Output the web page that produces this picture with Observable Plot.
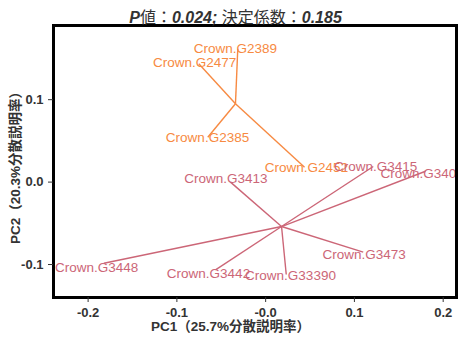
<!DOCTYPE html>
<html><head><meta charset="utf-8">
<script src="https://cdn.jsdelivr.net/npm/d3@7"></script>
<script src="https://cdn.jsdelivr.net/npm/@observablehq/plot@0.6"></script>
<style>
body{margin:0;background:#fff}
svg{display:block}
</style>
</head><body><div id="chart"></div>
<script>
// ---- data ----
const names   = ["Crown.G2389","Crown.G2477","Crown.G2385","Crown.G2452","Crown.G3415","Crown.G3406","Crown.G3413","Crown.G3448","Crown.G3442","Crown.G33390","Crown.G3473"];
const groupOf = ["A","A","A","A","B","B","B","B","B","B","B"];
const pc1     = [-0.0314,-0.0753,-0.0652, 0.0438, 0.1212, 0.1801,-0.0396,-0.1823,-0.0565, 0.0232, 0.1099];
const pc2     = [ 0.1617, 0.1435, 0.0545, 0.0181, 0.0189, 0.0132, 0.0000,-0.0984,-0.1064,-0.1121,-0.0850];
const labelPc1 = [-0.0340,-0.0801,-0.0655, 0.0460, 0.1238, 0.1762,-0.0447,-0.1903,-0.0644, 0.0280, 0.1110];
const labelPc2 = [ 0.1621, 0.1455, 0.0541, 0.0177, 0.0189, 0.0101, 0.0040,-0.1040,-0.1112,-0.1141,-0.0882];
const groupKeys = ["A","B"];
const centroidPc1 = [-0.0340, 0.0179];
const centroidPc2 = [ 0.0950,-0.0539];
const xTicks = [-0.2,-0.1,0,0.1,0.2];
const xTickLabels = ["-0.2","-0.1","-0.0","0.1","0.2"];
const yTicks = [-0.1,0,0.1];
const yTickLabels = ["-0.1","0.0","0.1"];
const xTitle = "PC1（25.7%分散説明率）";
const yTitle = "PC2（20.3%分散説明率）";
const titleParts = [["P",true],["値：",false],["0.024;",true],[" 決定係数：",false],["0.185",true]];

// ---- build tables ----
const groupColors = ["#F78A42","#CC6677"];
const rows = names.map((n,i)=>{
  const g = groupKeys.indexOf(groupOf[i]);
  return {name:n, group:groupOf[i], pc1:pc1[i], pc2:pc2[i], lx:labelPc1[i], ly:labelPc2[i], cx:centroidPc1[g], cy:centroidPc2[g]};
});

const FONT = "'Liberation Sans', Arial, 'Noto Sans CJK JP', sans-serif";

const plot = Plot.plot({
  width: 459, height: 338,
  marginLeft: 53, marginRight: 3, marginTop: 25, marginBottom: 41,
  style: {fontFamily: FONT, background: "white", overflow: "visible"},
  x: {domain: [-0.239, 0.215]},
  y: {domain: [-0.140, 0.190]},
  color: {domain: groupKeys, range: groupColors},
  marks: [
    Plot.link(rows, {x1: "cx", y1: "cy", x2: "pc1", y2: "pc2", stroke: "group", strokeWidth: 1.4}),
    Plot.text(rows, {x: "lx", y: "ly", text: "name", fill: "group", fontSize: 13.5, clip: true}),
    Plot.frame({stroke: "black", strokeWidth: 3}),
    Plot.axisX({ticks: xTicks, tickFormat: d => xTickLabels[xTicks.indexOf(d)], tickSize: 5, tickPadding: 5,
                fontSize: 13, fontWeight: "bold", color: "#333", label: null}),
    Plot.axisY({ticks: yTicks, tickFormat: d => yTickLabels[yTicks.indexOf(d)], tickSize: 5, tickPadding: 5,
                fontSize: 13, fontWeight: "bold", color: "#333", label: null})
  ]
});

const svg = d3.select(plot);
// title
const t = svg.append("text")
  .attr("x", 235.5).attr("y", 22.5)
  .attr("text-anchor", "middle")
  .attr("font-family", FONT)
  .attr("font-size", 16)
  .attr("fill", "#333");
titleParts.forEach(([s, em]) => {
  t.append("tspan").text(s)
    .attr("font-weight", em ? "bold" : "normal")
    .attr("font-style", em ? "italic" : "normal");
});
// x axis title
svg.append("text")
  .attr("x", 151).attr("y", 331)
  .attr("text-anchor", "start")
  .attr("font-family", FONT).attr("font-size", 13.5).attr("font-weight", "bold")
  .attr("fill", "#333").text(xTitle);
// y axis title
svg.append("text")
  .attr("transform", "translate(20,244) rotate(-90)")
  .attr("text-anchor", "start")
  .attr("font-family", FONT).attr("font-size", 13.5).attr("font-weight", "bold")
  .attr("fill", "#333").text(yTitle);

document.getElementById("chart").appendChild(plot);
</script>
</body></html>
